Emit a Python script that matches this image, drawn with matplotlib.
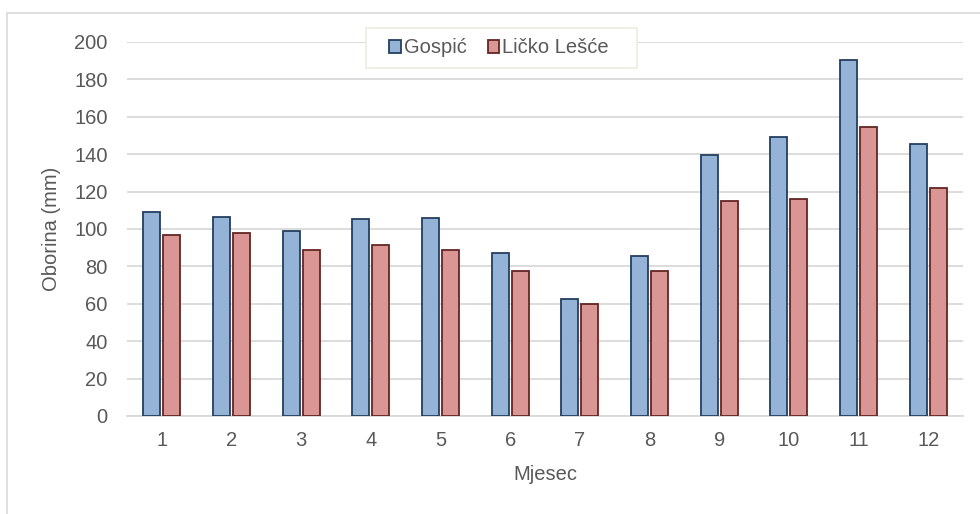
import numpy as np
import matplotlib.pyplot as plt
from matplotlib.patches import Rectangle

plt.rcParams['font.family'] = ['Liberation Sans', 'DejaVu Sans']

# monthly precipitation (mm)
months = [str(m) for m in range(1, 13)]
gospic = [109, 106.6, 99, 105.2, 106, 87, 62.6, 85.6, 139.6, 149.4, 190.4, 145.3]
lesce = [96.8, 98, 88.8, 91.6, 88.5, 77.6, 59.9, 77.7, 115.1, 116.2, 154.7, 122.1]
yticks = list(range(0, 201, 20))

TXT = "#595959"
GRID = "#d9d9d9"
FS = 14.5
W, H = 980, 514

fig = plt.figure(figsize=(9.8, 5.14), dpi=100)
ax = fig.add_axes([0.1296, 0.1907, 0.8531, 0.7276])

# outer chart frame
fig.patches.append(Rectangle((6.5 / W, -0.1), 1.2, 1 - 12.7 / H + 0.1,
                             transform=fig.transFigure, fill=False,
                             edgecolor=GRID, lw=1.2))

x = np.arange(1, 13)
w = 0.243
off = 0.143
ax.bar(x - off, gospic, w, color="#95b3d7", edgecolor="#243f60", lw=1.3,
       label="Gospić", zorder=3)
ax.bar(x + off, lesce, w, color="#da9694", edgecolor="#632523", lw=1.3,
       label="Ličko Lešće", zorder=3)

ax.set_xlim(0.5, 12.5)
ax.set_ylim(0, 200)
ax.set_yticks(yticks)
ax.set_xticks(x)
ax.set_xticklabels(months)
ax.yaxis.grid(True, color=GRID, lw=1.3, zorder=0)
ax.set_axisbelow(True)
for s in ["top", "right", "left"]:
    ax.spines[s].set_visible(False)
ax.spines["bottom"].set_color(GRID)
ax.spines["bottom"].set_linewidth(1.3)
ax.tick_params(axis="both", length=0, labelsize=FS, colors=TXT)
ax.tick_params(axis="x", pad=11)
ax.tick_params(axis="y", pad=14)

ax.set_xlabel("Mjesec", fontsize=FS, color=TXT, va="center")
ax.xaxis.set_label_coords(0.5, (416 - 475) / 374)
ax.set_ylabel("Oborina (mm)", fontsize=FS, color=TXT, va="center")
ax.yaxis.set_label_coords((51 - 127) / 836, 0.5)

# legend box (wider horizontal padding than matplotlib's frame allows)
ax.add_patch(Rectangle((366 / W, 1 - 68 / H), 271 / W, 40 / H,
                       transform=fig.transFigure, facecolor="white",
                       edgecolor="#eeece1", lw=1.2, zorder=4.9, clip_on=False))
leg = ax.legend(loc="center", bbox_to_anchor=(0.445, 0.984), ncol=2,
                fontsize=FS, frameon=False,
                handlelength=0.58, handleheight=0.58, handletextpad=0.15,
                columnspacing=1.05, borderpad=0.5)
leg.set_zorder(5)
for t in leg.get_texts():
    t.set_color(TXT)

fig.savefig("out.png", dpi=100)
